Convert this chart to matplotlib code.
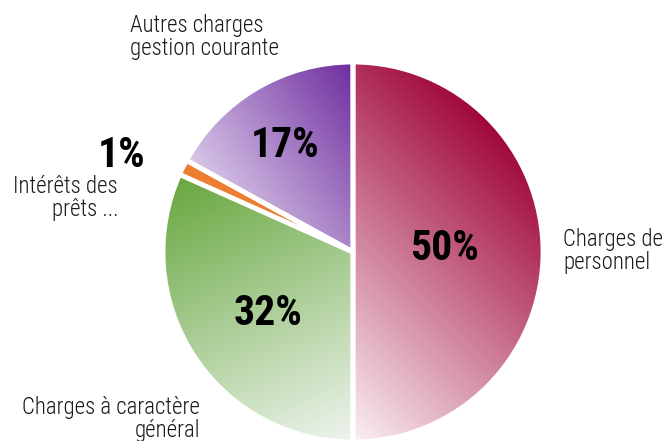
import numpy as np
import matplotlib
matplotlib.use('Agg')
import matplotlib.pyplot as plt
from matplotlib.colors import LinearSegmentedColormap

plt.rcParams['font.family'] = ['Roboto Condensed', 'Archivo Narrow', 'PT Sans Narrow',
                               'Liberation Sans Narrow', 'Sofia Sans Condensed', 'DejaVu Sans']

postes = ['Charges de\npersonnel', 'Charges à caractère\ngénéral',
          'Intérêts des\nprêts ...', 'Autres charges\ngestion courante']
parts = [50.0, 31.7, 1.3, 17.0]
pct_labels = ['50%', '32%', '1%', '17%']

# light -> dark for each slice (None = plain fill)
grad_cols = [('#fbf0f3', '#a0073c'), ('#eef4ee', '#68a73f'), None, ('#d9c9e8', '#6e2c9f')]
grad_dirs = [45, 115, 0, 35]
solid = ['#a0073c', '#68a73f', '#ed7d31', '#6e2c9f']

W, H = 670, 441
fig = plt.figure(figsize=(6.7, 4.41), dpi=100)
ax = fig.add_axes([0, 0, 1, 1])

cx, cy, r = 353, H - 252, 190
wedges, _ = ax.pie(parts, colors=solid, startangle=90, counterclock=False,
                   center=(cx, cy), radius=r, explode=[0.022, 0.02, 0.03, 0.024],
                   wedgeprops=dict(edgecolor='white', linewidth=3.5), frame=True)
ax.set_xlim(0, W)
ax.set_ylim(0, H)
ax.set_aspect('equal')
ax.axis('off')

xx, yy = np.meshgrid(np.linspace(0, W, 670), np.linspace(0, H, 441))
for w, cols, ang in zip(wedges, grad_cols, grad_dirs):
    if cols is None:
        continue
    d = np.array([np.cos(np.radians(ang)), np.sin(np.radians(ang))])
    v = w.get_path().vertices
    p = v @ d
    t = (xx * d[0] + yy * d[1] - p.min()) / (p.max() - p.min())
    cmap = LinearSegmentedColormap.from_list('g', cols)
    im = ax.imshow(np.clip(t, 0, 1), cmap=cmap, extent=(0, W, 0, H), origin='lower',
                   vmin=0, vmax=1, zorder=w.get_zorder() - 0.5, interpolation='bilinear')
    im.set_clip_path(w)
    w.set_facecolor('none')

# percentages
pct_pos = [(445, 260), (268, 325), (122, 167), (285, 157)]
for txt, (x, y) in zip(pct_labels, pct_pos):
    ax.text(x, H - y, txt, ha='center', va='baseline', fontsize=30, fontweight='bold', color='black')

# category labels
lab = dict(fontsize=16.5, color='#1a1a1a', linespacing=0.98, fontweight='light')
ax.text(563, H - 228, postes[0], ha='left', va='top', **lab)
ax.text(200, H - 396, postes[1], ha='right', va='top', multialignment='right', **lab)
ax.text(118, H - 175, postes[2], ha='right', va='top', multialignment='right', **lab)
ax.text(130, H - 14, postes[3], ha='left', va='top', **lab)

fig.savefig('out.png', dpi=100)
